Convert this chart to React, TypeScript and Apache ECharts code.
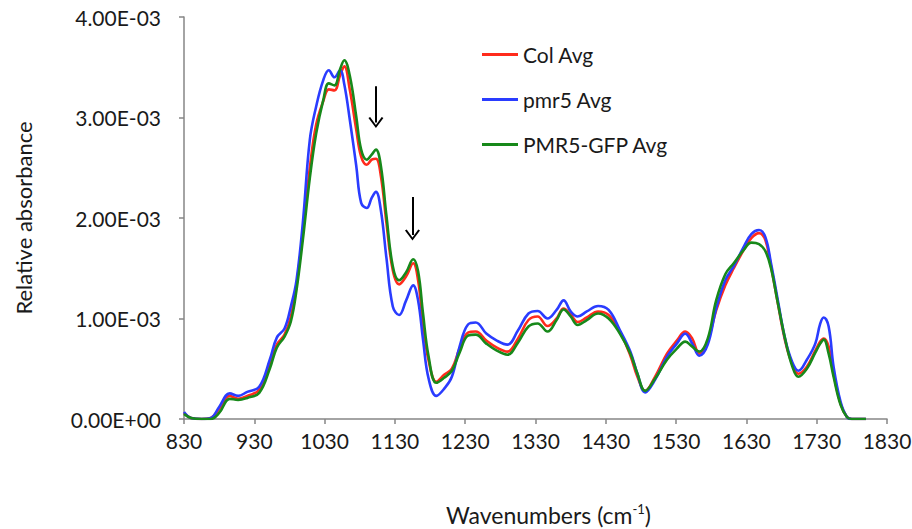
import React, { useEffect, useRef } from "react";
import * as echarts from "echarts";

// Wavenumbers (cm-1) at which the spectra were read
const wavenumbers = [
  830, 840, 855, 868, 880, 895, 907, 920, 937, 952,
  962, 973, 982, 990, 999, 1009, 1018, 1028, 1036, 1044,
  1052, 1058, 1066, 1075, 1082, 1090, 1097, 1103, 1110, 1118,
  1127, 1136, 1146, 1156, 1163, 1170, 1178, 1189, 1200, 1211,
  1222, 1234, 1245, 1260, 1275, 1290, 1305, 1320, 1333, 1347,
  1360, 1370, 1380, 1390, 1403, 1419, 1434, 1450, 1465, 1475,
  1486, 1500, 1517, 1531, 1543, 1553, 1563, 1575, 1587, 1600,
  1612, 1626, 1637, 1648, 1657, 1665, 1674, 1685, 1695, 1704,
  1716, 1728, 1735, 1740, 1747, 1754, 1764, 1773, 1780, 1800,
];

// Relative absorbance, in units of 1E-03
const colAvg = [
  0.06, 0.01, 0, 0.01, 0.10, 0.23, 0.20, 0.23, 0.29, 0.55,
  0.74, 0.84, 1.02, 1.33, 1.85, 2.50, 2.93, 3.16, 3.28, 3.27,
  3.42, 3.51, 3.27, 2.88, 2.61, 2.53, 2.58, 2.59, 2.42, 1.95,
  1.48, 1.34, 1.42, 1.55, 1.38, 0.95, 0.58, 0.37, 0.44, 0.50,
  0.70, 0.86, 0.87, 0.78, 0.71, 0.67, 0.80, 0.985, 1.02, 0.925,
  1.00, 1.10, 1.04, 0.965, 1.01, 1.07, 1.035, 0.87, 0.63, 0.42,
  0.28, 0.42, 0.65, 0.78, 0.87, 0.80, 0.65, 0.78, 1.08, 1.33,
  1.50, 1.68, 1.80, 1.85, 1.78, 1.52, 1.18, 0.78, 0.55, 0.45,
  0.52, 0.68, 0.77, 0.80, 0.72, 0.45, 0.15, 0.02, 0, 0,
];

const pmr5Avg = [
  0.07, 0.01, 0, 0.01, 0.12, 0.255, 0.23, 0.27, 0.32, 0.59,
  0.81, 0.90, 1.12, 1.38, 1.95, 2.78, 3.11, 3.37, 3.47, 3.40,
  3.47, 3.33, 2.97, 2.52, 2.15, 2.10, 2.20, 2.26, 2.08, 1.60,
  1.12, 1.035, 1.18, 1.33, 1.18, 0.79, 0.40, 0.23, 0.30, 0.42,
  0.72, 0.94, 0.96, 0.85, 0.78, 0.74, 0.88, 1.05, 1.075, 1.00,
  1.085, 1.18, 1.07, 1.02, 1.07, 1.125, 1.085, 0.885, 0.67, 0.45,
  0.265, 0.39, 0.62, 0.75, 0.85, 0.75, 0.63, 0.74, 1.10, 1.38,
  1.52, 1.71, 1.84, 1.88, 1.81, 1.55, 1.21, 0.80, 0.57, 0.48,
  0.59, 0.75, 0.95, 1.01, 0.92, 0.52, 0.17, 0.02, 0, 0,
];

const pmr5GfpAvg = [
  0.05, 0.01, 0, 0, 0.06, 0.20, 0.19, 0.21, 0.26, 0.50,
  0.71, 0.82, 0.97, 1.28, 1.78, 2.40, 2.84, 3.17, 3.34, 3.32,
  3.48, 3.57, 3.41, 3.01, 2.68, 2.58, 2.63, 2.68, 2.52, 2.02,
  1.52, 1.38, 1.46, 1.59, 1.47, 1.05, 0.62, 0.36, 0.41, 0.48,
  0.66, 0.83, 0.84, 0.75, 0.68, 0.64, 0.76, 0.92, 0.95, 0.87,
  0.985, 1.09, 1.02, 0.935, 0.985, 1.05, 1.00, 0.85, 0.65, 0.45,
  0.28, 0.40, 0.59, 0.70, 0.77, 0.72, 0.67, 0.80, 1.18, 1.44,
  1.55, 1.68, 1.755, 1.74, 1.67, 1.50, 1.18, 0.80, 0.53, 0.42,
  0.50, 0.66, 0.75, 0.79, 0.65, 0.42, 0.14, 0.02, 0, 0,
];

const seriesNames = ["Col Avg", "pmr5 Avg", "PMR5-GFP Avg"];
const seriesColors = ["#ff2b1c", "#2a3cff", "#17891a"];

const xTickValues = [830, 930, 1030, 1130, 1230, 1330, 1430, 1530, 1630, 1730, 1830];

// Arrow annotations (wavenumber, top and tip absorbance in 1E-03)
const arrowWavenumbers = [1103, 1155];
const arrowTops = [3.31, 2.21];
const arrowTips = [2.95, 1.83];

const FONT = "Lato";
const TEXT = "#1a1a1a";
const AXIS = "#868686";

const chevron = "path://M0,11 L7,0 L14,11 L12.4,12 L7,3.4 L1.6,12 Z";

function pairs(values: number[]) {
  return wavenumbers.map((w, i) => [w, values[i]]);
}

export default function App() {
  const ref = useRef<HTMLDivElement>(null);
  useEffect(() => {
    const chart = echarts.init(ref.current!, null, { renderer: "svg" });
    const allValues = [colAvg, pmr5Avg, pmr5GfpAvg];
    chart.setOption({
      animation: false,
      backgroundColor: "#ffffff",
      grid: { left: 184, right: 25, top: 17, bottom: 110, containLabel: false, outerBoundsMode: "none" },
      legend: {
        data: seriesNames,
        orient: "vertical",
        left: 482,
        top: 44,
        padding: 0,
        icon: "rect",
        itemWidth: 36,
        itemHeight: 3,
        itemGap: 24,
        textStyle: { fontFamily: FONT, fontSize: 21, color: TEXT, lineHeight: 20 },
      },
      xAxis: {
        type: "value",
        min: 830,
        max: 1830,
        name: "{a|Wavenumbers (cm}{s|-1}{a|)}",
        nameLocation: "middle",
        nameGap: 83,
        nameTextStyle: {
          padding: [0, 0, 0, 26],
          rich: {
            a: { fontFamily: FONT, fontSize: 23, color: TEXT, lineHeight: 26 },
            s: { fontFamily: FONT, fontSize: 13, color: TEXT, lineHeight: 15, verticalAlign: "top" },
          },
        },
        splitLine: { show: false },
        axisLine: { onZero: false, lineStyle: { color: AXIS, width: 1.5 } },
        axisTick: { length: 5, customValues: xTickValues, lineStyle: { color: AXIS, width: 1.5 } },
        axisLabel: {
          customValues: xTickValues,
          margin: 11,
          fontFamily: FONT,
          fontSize: 21,
          color: TEXT,
          formatter: (v: number) => String(v),
        },
      },
      yAxis: {
        type: "value",
        min: 0,
        max: 4,
        interval: 1,
        name: "Relative absorbance",
        nameLocation: "middle",
        nameGap: 150,
        nameRotate: 90,
        nameTextStyle: { fontFamily: FONT, fontSize: 22, color: TEXT },
        splitLine: { show: false },
        axisLine: { show: true, lineStyle: { color: AXIS, width: 1.5 } },
        axisTick: { show: true, length: 5, lineStyle: { color: AXIS, width: 1.5 } },
        axisLabel: {
          margin: 23,
          padding: [11, 0, 0, 0],
          fontFamily: FONT,
          fontSize: 21,
          color: TEXT,
          formatter: (v: number) => (v === 0 ? "0.00E+00" : `${v.toFixed(2)}E-03`),
        },
      },
      series: seriesNames.map((name, i) => ({
        name,
        type: "line",
        data: pairs(allValues[i]),
        smooth: 0.4,
        showSymbol: false,
        symbol: "none",
        lineStyle: { color: seriesColors[i], width: 2.6 },
        itemStyle: { color: seriesColors[i] },
        z: 2 + i,
        ...(i === 2
          ? {
              markLine: {
                silent: true,
                symbol: ["none", chevron],
                symbolSize: [15, 11],
                label: { show: false },
                lineStyle: { color: "#000000", width: 2, type: "solid" },
                emphasis: { disabled: true },
                data: arrowWavenumbers.map((w, k) => [
                  { coord: [w, arrowTops[k]] },
                  { coord: [w, arrowTips[k]] },
                ]),
              },
            }
          : {}),
      })),
    });
    return () => chart.dispose();
  }, []);
  return (
    <div
      ref={ref}
      style={{ position: "absolute", left: 0, top: 0, width: 912, height: 529 }}
    />
  );
}
